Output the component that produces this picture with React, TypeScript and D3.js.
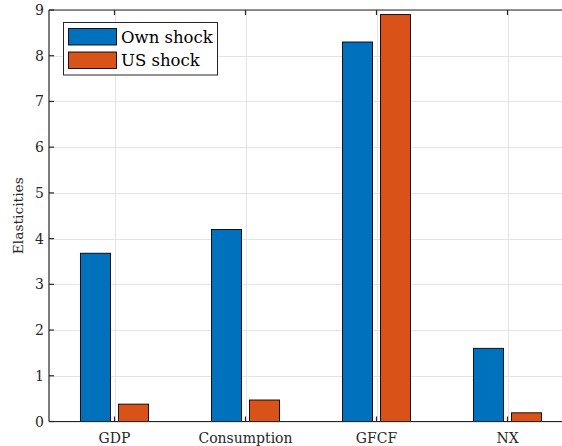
import React from "react";
import * as d3 from "d3";

const categories = ["GDP", "Consumption", "GFCF", "NX"];
const seriesNames = ["Own shock", "US shock"];
const ownShock = [3.68, 4.2, 8.3, 1.6];
const usShock = [0.38, 0.47, 8.9, 0.19];
const yTicks = [0, 1, 2, 3, 4, 5, 6, 7, 8, 9];
const colors = ["#0072BD", "#D95319"];

const W = 562;
const H = 446;
const FONT = "'DejaVu Serif', serif";

export default function App() {
  const x = d3.scaleLinear().domain([0.5, 4.5]).range([49, 573]);
  const y = d3.scaleLinear().domain([0, 9]).range([421.5, 10]);
  const sub = d3
    .scaleBand<string>()
    .domain(seriesNames)
    .range([x(0.74) - x(1), x(1.26) - x(1)])
    .paddingInner(0.21);
  const values = [ownShock, usShock];
  const left = x(0.5);
  const right = W;
  const top = y(9);
  const bottom = y(0);
  const axisColor = "#262626";
  const gridColor = "#e4e4e4";

  return (
    <div style={{ position: "absolute", left: 0, top: 0 }}>
      <svg width={W} height={H} style={{ display: "block", background: "#fff" }}>
        <defs>
          <clipPath id="plot">
            <rect x={left} y={top} width={right - left} height={bottom - top} />
          </clipPath>
        </defs>
        {/* grid */}
        <g stroke={gridColor} strokeWidth={1}>
          {yTicks.map((t) => (
            <line key={"gy" + t} x1={left} x2={right} y1={Math.round(y(t)) + 0.5} y2={Math.round(y(t)) + 0.5} />
          ))}
          {categories.map((c, i) => (
            <line key={"gx" + c} x1={Math.round(x(i + 1)) + 0.5} x2={Math.round(x(i + 1)) + 0.5} y1={top} y2={bottom} />
          ))}
        </g>
        {/* bars */}
        <g clipPath="url(#plot)">
          {seriesNames.map((s, si) =>
            categories.map((c, i) => {
              const x0 = x(i + 1) + (sub(s) as number);
              const v = values[si][i];
              return (
                <rect
                  key={s + c}
                  x={x0}
                  y={y(v)}
                  width={sub.bandwidth()}
                  height={y(0) - y(v)}
                  fill={colors[si]}
                  stroke="#000"
                  strokeWidth={0.9}
                />
              );
            })
          )}
        </g>
        {/* axes */}
        <g stroke={axisColor} strokeWidth={1.2} fill="none">
          <line x1={left} x2={right} y1={bottom} y2={bottom} />
          <line x1={left} x2={right} y1={top} y2={top} />
          <line x1={left} x2={left} y1={top} y2={bottom} />
          {yTicks.map((t) => (
            <line key={"ty" + t} x1={left} x2={left + 5} y1={y(t)} y2={y(t)} />
          ))}
          {categories.map((c, i) => (
            <g key={"tx" + c}>
              <line x1={x(i + 1)} x2={x(i + 1)} y1={bottom} y2={bottom - 5} />
              <line x1={x(i + 1)} x2={x(i + 1)} y1={top} y2={top + 5} />
            </g>
          ))}
        </g>
        {/* tick labels */}
        <g fontFamily={FONT} fontSize={14} fill={axisColor}>
          {yTicks.map((t) => (
            <text key={"ly" + t} x={left - 5} y={y(t)} dy="0.36em" textAnchor="end">
              {t}
            </text>
          ))}
          {categories.map((c, i) => (
            <text key={"lx" + c} x={x(i + 1)} y={442.5} textAnchor="middle">
              {c}
            </text>
          ))}
          <text
            transform={`translate(${23},${(top + bottom) / 2}) rotate(-90)`}
            textAnchor="middle"
            fontSize={13.8}
          >
            Elasticities
          </text>
        </g>
        {/* legend */}
        <g>
          <rect x={63.5} y={22.5} width={154} height={52.5} fill="#fff" stroke={axisColor} strokeWidth={1} />
          {seriesNames.map((s, si) => (
            <g key={"lg" + s}>
              <rect x={68.5} y={28.5 + si * 23.5} width={48} height={16.5} fill={colors[si]} stroke="#000" strokeWidth={0.9} />
              <text x={121} y={42.7 + si * 23.5} fontFamily={FONT} fontSize={16.5} fill="#000">
                {s}
              </text>
            </g>
          ))}
        </g>
      </svg>
    </div>
  );
}
